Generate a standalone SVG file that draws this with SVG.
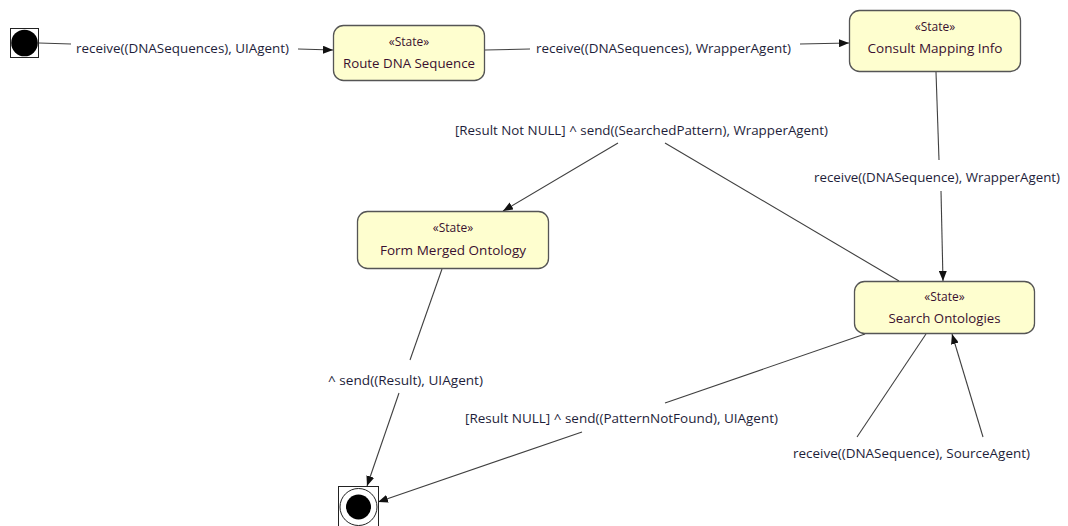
<svg xmlns="http://www.w3.org/2000/svg" width="1068" height="526" viewBox="0 0 1068 526">
<style>
.node rect.box{fill:#fefecf;stroke:#555;stroke-width:1.3}
.st{font-family:"Open Sans","Liberation Sans",Arial,sans-serif;font-size:12px;fill:#3a1030;text-anchor:middle}
.nm{font-family:"Open Sans","Liberation Sans",Arial,sans-serif;font-size:12.5px;fill:#3a1030;text-anchor:middle}
.lb{font-family:"Open Sans","Liberation Sans",Arial,sans-serif;font-size:12.5px;fill:#1e1e3a}
#connectors line{stroke:#404040;stroke-width:1.1;fill:none}
</style>
<defs>
<marker id="arr" viewBox="0 0 10 8" refX="10" refY="4" markerWidth="10" markerHeight="8" markerUnits="userSpaceOnUse" orient="auto">
<path d="M0,0 L10,4 L0,8 Z" fill="#111"/>
</marker>
</defs>
<rect width="1068" height="526" fill="#fff"/>
<g id="connectors">
<line x1="39" y1="43" x2="71" y2="44"/>
<line x1="298" y1="49" x2="333" y2="50" marker-end="url(#arr)"/>
<text class="lb" x="76" y="52.5" textLength="213" lengthAdjust="spacingAndGlyphs">receive((DNASequences), UIAgent)</text>
<line x1="485" y1="50" x2="530" y2="49"/>
<line x1="800" y1="44" x2="849" y2="43" marker-end="url(#arr)"/>
<text class="lb" x="536" y="52.5" textLength="255" lengthAdjust="spacingAndGlyphs">receive((DNASequences), WrapperAgent)</text>
<line x1="936" y1="72" x2="939" y2="160"/>
<line x1="941" y1="191" x2="943" y2="281" marker-end="url(#arr)"/>
<text class="lb" x="814" y="181.5" textLength="246" lengthAdjust="spacingAndGlyphs">receive((DNASequence), WrapperAgent)</text>
<line x1="899" y1="281" x2="665" y2="143"/>
<line x1="618" y1="143" x2="503" y2="211" marker-end="url(#arr)"/>
<text class="lb" x="455" y="134.5" textLength="373" lengthAdjust="spacingAndGlyphs">[Result Not NULL] ^ send((SearchedPattern), WrapperAgent)</text>
<line x1="442" y1="269" x2="410" y2="360"/>
<line x1="399" y1="393" x2="367" y2="486" marker-end="url(#arr)"/>
<text class="lb" x="328" y="384.5" textLength="155" lengthAdjust="spacingAndGlyphs">^ send((Result), UIAgent)</text>
<line x1="865" y1="334" x2="665" y2="403"/>
<line x1="582" y1="432" x2="378" y2="502" marker-end="url(#arr)"/>
<text class="lb" x="465" y="422.5" textLength="313" lengthAdjust="spacingAndGlyphs">[Result NULL] ^ send((PatternNotFound), UIAgent)</text>
<line x1="926" y1="334" x2="857" y2="437"/>
<line x1="983" y1="437" x2="952" y2="334" marker-end="url(#arr)"/>
<text class="lb" x="793" y="457.5" textLength="237" lengthAdjust="spacingAndGlyphs">receive((DNASequence), SourceAgent)</text>
</g>
<g id="initial" class="node">
<rect x="10.5" y="28.5" width="28" height="29" fill="#fff" stroke="#222" stroke-width="1"/>
<circle cx="24.5" cy="43" r="13.3" fill="#000"/>
</g>
<g id="route" class="node">
<rect class="box" x="333.5" y="25.5" width="151" height="55" rx="10"/>
<text class="st" x="409" y="46">«State»</text>
<text class="nm" x="409" y="67.5" textLength="132" lengthAdjust="spacingAndGlyphs">Route DNA Sequence</text>
</g>
<g id="consult" class="node">
<rect class="box" x="849.5" y="10.5" width="171" height="61" rx="10"/>
<text class="st" x="935" y="31">«State»</text>
<text class="nm" x="935" y="52.5" textLength="135" lengthAdjust="spacingAndGlyphs">Consult Mapping Info</text>
</g>
<g id="merged" class="node">
<rect class="box" x="357.5" y="211.5" width="191" height="57" rx="10"/>
<text class="st" x="453" y="232">«State»</text>
<text class="nm" x="453" y="254.5" textLength="146" lengthAdjust="spacingAndGlyphs">Form Merged Ontology</text>
</g>
<g id="search" class="node">
<rect class="box" x="854.5" y="281.5" width="180" height="52" rx="10"/>
<text class="st" x="944.5" y="301">«State»</text>
<text class="nm" x="944.5" y="322.5" textLength="112" lengthAdjust="spacingAndGlyphs">Search Ontologies</text>
</g>
<g id="final" class="node">
<rect x="338.5" y="486.5" width="40" height="42" fill="#fff" stroke="#222" stroke-width="1"/>
<circle cx="358.5" cy="507" r="18.5" fill="#fff" stroke="#222" stroke-width="1"/>
<circle cx="358.5" cy="507" r="12.5" fill="#000"/>
</g>
</svg>
